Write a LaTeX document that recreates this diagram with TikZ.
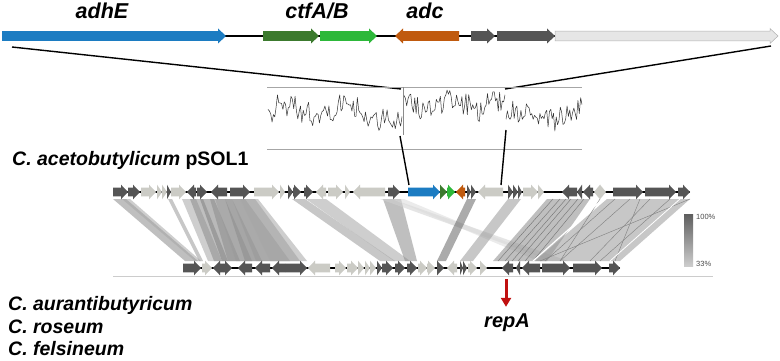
\documentclass[tikz,border=0pt]{standalone}
\usepackage{fontspec}
\setmainfont{Liberation Sans}
\usetikzlibrary{arrows.meta}
\definecolor{gblue}{HTML}{1C7CC2}
\definecolor{dgreen}{HTML}{3C7A2E}
\definecolor{bgreen}{HTML}{2DB83A}
\definecolor{gorange}{HTML}{C05A0E}
\definecolor{dk}{HTML}{555555}
\definecolor{lt}{HTML}{CBCBC5}
\definecolor{hatch}{HTML}{E6E6E6}
\definecolor{repred}{HTML}{C01010}
\newcommand\gn[5]{%
 \pgfmathsetmacro\ga{(#3)>0 ? #1 : #2}%
 \pgfmathsetmacro\gb{(#3)>0 ? #2 : #1}%
 \pgfmathsetmacro\gh{\gb-(#3)*min(\headlen,#2-#1)}%
 \fill[#5] (\ga,#4-\bodyh) -- (\gh,#4-\bodyh) -- (\gh,#4-\headh) -- (\gb,#4) -- (\gh,#4+\headh) -- (\gh,#4+\bodyh) -- (\ga,#4+\bodyh) -- cycle;}
\newcommand\rib[5]{\fill[#5,fill opacity=0.55] (#1,199) -- (#2,199) -- (#4,261) -- (#3,261) -- cycle;}
\tikzset{
 biglabel/.style={font=\fontsize{21.5}{22}\selectfont\bfseries\itshape, inner sep=0pt},
 species/.style={font=\fontsize{19.5}{20}\selectfont\bfseries\itshape, inner sep=0pt, anchor=west},
 zoomline/.style={line width=1.4pt, black},
 plotln/.style={black!80, line width=0.5pt, line join=round},
 frameln/.style={black!35, line width=0.9pt},
 track/.style={black, line width=1.3pt},
 legtxt/.style={font=\fontsize{7.5}{8}\selectfont, text=black!70, inner sep=0pt, anchor=west}
}
\begin{document}
\begin{tikzpicture}[x=1pt,y=-1pt]
\useasboundingbox[fill=white] (0,0) rectangle (780,361);

% ---------- top track ----------
\draw[track] (2,36) -- (775,36);
\def\bodyh{4.8}\def\headh{7.5}\def\headlen{8}
\gn{2}{226}{1}{36}{gblue}
\gn{263}{319}{1}{36}{dgreen}
\gn{320}{377}{1}{36}{bgreen}
\gn{395}{459}{-1}{36}{gorange}
\gn{471}{495}{1}{36}{dk}
\gn{497}{555}{1}{36}{dk}
\draw[black!30,line width=0.5pt,fill=hatch] (555,31.2) -- (770,31.2) -- (770,28.5) -- (778,36) -- (770,43.5) -- (770,40.8) -- (555,40.8) -- cycle;

\node[biglabel] (adhE) at (102,11) {adhE};
\node[biglabel] (ctf) at (317,11) {ctfA/B};
\node[biglabel] (adc) at (425,11) {adc};

% ---------- zoom lines ----------
\coordinate (tl) at (12,47);
\coordinate (tr) at (771,46);
\coordinate (pl) at (401,89);
\coordinate (pr) at (505,89);
\draw[zoomline] (tl) -- (pl);
\draw[zoomline] (tr) -- (pr);

% ---------- GC plot ----------
\draw[frameln] (267,87) -- (582,87);
\draw[frameln] (267,149) -- (582,149);
\draw[black!45,line width=0.6pt] (403,87) -- (403,135);
\pgfmathsetseed{23}
\draw[plotln] plot[domain=268:402,samples=100] (\x,{112+11*rand+5*sin(6*\x)+3*sin(23*\x)+14*max(0,(\x-388)/14)});
\draw[plotln] plot[domain=404:505,samples=76] (\x,{104+11*rand+5*sin(7*\x)+3*sin(19*\x)});
\draw[plotln] plot[domain=506:582,samples=57] (\x,{114+11*rand+4*sin(6*\x)+3*sin(21*\x)});

\coordinate (ql) at (400,136);
\coordinate (qr) at (506,130);
\coordinate (ml) at (409,185);
\coordinate (mr) at (501,185);
\draw[zoomline] (ql) -- (ml);
\draw[zoomline] (qr) -- (mr);

% ---------- species label ----------
\node[species] (acet) at (12,160) {C. acetobutylicum \upshape pSOL1};

% ---------- ribbons ----------
\rib{113}{126}{185}{198}{black!45}
\rib{122}{130}{195}{201}{black!35}
\rib{168}{172}{199}{203}{black!40}
\rib{182}{196}{208}{222}{black!35}
\rib{190}{203}{214}{228}{black!45}
\rib{200}{214}{222}{240}{black!50}
\rib{210}{225}{228}{252}{black!45}
\rib{215}{232}{236}{262}{black!40}
\rib{225}{245}{245}{290}{black!45}
\rib{232}{255}{256}{300}{black!40}
\rib{240}{258}{270}{307}{black!35}
\rib{292}{305}{380}{395}{black!40}
\rib{306}{326}{394}{410}{black!35}
\rib{383}{401}{405}{417}{black!45}
\rib{380}{392}{552}{568}{black!18}
\rib{392}{404}{538}{552}{black!14}
\rib{467}{476}{437}{446}{black!60}
\rib{508}{521}{460}{473}{black!40}
\rib{547}{590}{493}{547}{black!45}
\rib{607}{690}{535}{620}{black!40}
\foreach \t/\b in {553/498,560/505,566/512,571/518,578/525,584/533}
  \draw[black!55,line width=0.4pt] (\t,199) -- (\b,261);
\foreach \t/\b in {615/545,630/560,690/540,650/590,670/600,640/615,600/560}
  \draw[black!50,line width=0.4pt] (\t,199) -- (\b,261);
\draw[white,line width=1.2pt] (603,199) -- (533,261);
\draw[white,line width=0.8pt] (680,199) -- (610,261);

% ---------- middle track (pSOL1) ----------
\draw[track] (113,192) -- (690,192);
\def\bodyh{4.4}\def\headh{7.3}\def\headlen{7}
\foreach \a/\b/\d/\c in {113/128/1/dk,128/140/1/dk,141/156/1/lt,157/162/1/lt,162/167/1/lt,167/171/1/dk,171/186/1/lt,
  187/196/-1/dk,197/207/1/dk,211/227/-1/dk,230/250/1/dk,254/279/1/lt,280/285/1/lt,288/293/1/dk,293/301/1/dk,
  304/313/1/dk,316/326/-1/lt,328/343/1/lt,345/350/1/lt,353/385/-1/lt,388/400/1/dk,
  408/440/1/gblue,440/447/1/dgreen,447/455/1/bgreen,456/465/-1/gorange,
  467/471/1/dk,471/476/1/dk,478/503/-1/lt,508/513/1/dk,513/518/1/dk,518/522/1/dk,523/538/1/lt,538/544/1/lt,
  562/577/-1/dk,577/582/-1/dk,583/593/-1/dk,594/600/-1/lt,600/606/1/lt,613/643/1/dk,645/676/1/dk,678/690/1/dk}
  {\gn{\a}{\b}{\d}{192}{\c}}

% ---------- bottom track ----------
\draw[track] (183,268) -- (620,268);
\foreach \a/\b/\d/\c in {183/201/1/dk,202/212/1/lt,213/223/-1/dk,223/232/1/dk,238/252/-1/dk,255/270/-1/dk,272/285/-1/dk,
  285/307/1/dk,308/330/-1/lt,335/346/1/lt,347/358/1/lt,358/364/1/lt,365/370/1/lt,370/376/1/lt,377/382/1/dk,
  382/393/1/dk,395/405/1/dk,407/417/1/dk,418/427/1/lt,427/435/1/lt,437/444/1/dk,447/457/-1/lt,460/463/1/dk,
  463/467/1/dk,468/477/1/lt,480/487/1/lt,502/513/-1/dk,516/520/-1/dk,522/540/-1/dk,542/570/1/dk,573/602/1/dk,609/620/1/dk}
  {\gn{\a}{\b}{\d}{268}{\c}}
\draw[black!20,line width=0.8pt] (113,276) -- (713,276);

% ---------- legend ----------
\shade[top color=black!63,bottom color=black!20] (684,214) rectangle (693,266);
\node[legtxt] (l100) at (696,217) {100\%};
\node[legtxt] (l33) at (696,264) {33\%};

% ---------- repA ----------
\node[biglabel,font=\fontsize{20}{20}\selectfont\bfseries\itshape] (repA) at (507,323) {repA};
\coordinate (rs) at (506,279);
\draw[repred,line width=3pt,-{Triangle[width=10pt,length=9pt]}] (rs) -- ([xshift=-1pt,yshift=7pt]repA.north);

% ---------- other species ----------
\node[species] (aur) at (8,305) {C. aurantibutyricum};
\node[species] (ros) at (8,327) {C. roseum};
\node[species] (fel) at (8,349) {C. felsineum};
\end{tikzpicture}
\end{document}
